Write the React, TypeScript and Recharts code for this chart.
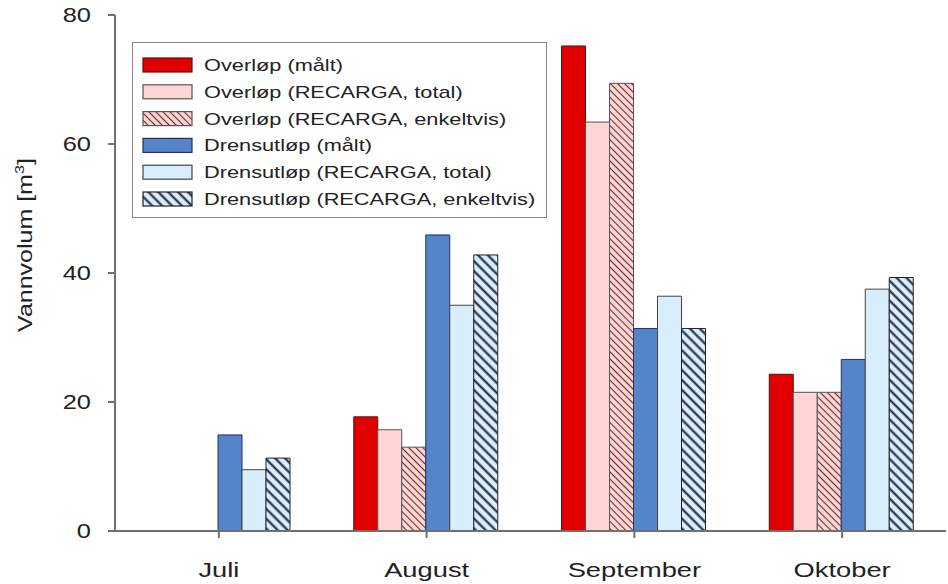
import { Bar, BarChart, Legend, XAxis, YAxis } from "recharts";

const months = ["Juli", "August", "September", "Oktober"];
const overlopMalt = [null, 17.7, 75.2, 24.3];
const overlopTotal = [null, 15.7, 63.4, 21.5];
const overlopEnkelt = [null, 13.0, 69.4, 21.5];
const drensMalt = [14.9, 45.9, 31.4, 26.6];
const drensTotal = [9.5, 35.0, 36.4, 37.5];
const drensEnkelt = [11.3, 42.8, 31.4, 39.3];
const yTicks = [0, 20, 40, 60, 80];

const series = [
  { key: "overlopMalt", name: "Overløp (målt)", fill: "#e00000", stroke: "#5a1010" },
  { key: "overlopTotal", name: "Overløp (RECARGA, total)", fill: "#ffd6d6", stroke: "#555" },
  { key: "overlopEnkelt", name: "Overløp (RECARGA, enkeltvis)", fill: "hatchPink", stroke: "#555" },
  { key: "drensMalt", name: "Drensutløp (målt)", fill: "#5585c8", stroke: "#1f3560" },
  { key: "drensTotal", name: "Drensutløp (RECARGA, total)", fill: "#d8eefc", stroke: "#444" },
  { key: "drensEnkelt", name: "Drensutløp (RECARGA, enkeltvis)", fill: "hatchBlue", stroke: "#222" },
];

const data = months.map((month, i) => ({
  month,
  overlopMalt: overlopMalt[i],
  overlopTotal: overlopTotal[i],
  overlopEnkelt: overlopEnkelt[i],
  drensMalt: drensMalt[i],
  drensTotal: drensTotal[i],
  drensEnkelt: drensEnkelt[i],
}));

const FONT = '"Liberation Sans", Arial, sans-serif';
const AXIS = "#707070";

function fillOf(fill: string, prefix: string) {
  return fill.startsWith("hatch") ? `url(#${prefix}${fill})` : fill;
}

function HatchDefs({ prefix }: { prefix: string }) {
  return (
    <defs>
      <pattern
        id={`${prefix}hatchPink`}
        patternUnits="userSpaceOnUse"
        width={5}
        height={5}
        patternTransform="rotate(-45)"
      >
        <rect width={5} height={5} fill="#ffd6d6" />
        <line x1={2.5} y1={0} x2={2.5} y2={5} stroke="#6b2a2a" strokeWidth={1.1} />
      </pattern>
      <pattern
        id={`${prefix}hatchBlue`}
        patternUnits="userSpaceOnUse"
        width={7}
        height={7}
        patternTransform="rotate(-45)"
      >
        <rect width={7} height={7} fill="#d8eefc" />
        <line x1={3.5} y1={0} x2={3.5} y2={7} stroke="#1b1b2e" strokeWidth={2} />
      </pattern>
    </defs>
  );
}

function XTick({ x, y, payload }: any) {
  return (
    <text
      transform={`translate(${x},${y + 39}) scale(1.3,1)`}
      textAnchor="middle"
      fontSize={21}
      fill="#222"
      fontFamily={FONT}
    >
      {payload.value}
    </text>
  );
}

function YTick({ x, y, payload }: any) {
  return (
    <text
      transform={`translate(${x},${y + 7}) scale(1.27,1)`}
      textAnchor="end"
      fontSize={20}
      fill="#222"
      fontFamily={FONT}
    >
      {payload.value}
    </text>
  );
}

function YLabel() {
  return (
    <text
      transform="translate(32,245) rotate(-90) scale(1.25,1)"
      textAnchor="middle"
      fontSize={20}
      fill="#222"
      fontFamily={FONT}
    >
      Vannvolum [m
      <tspan dy={-8} fontSize={13}>
        3
      </tspan>
      <tspan dy={8}>]</tspan>
    </text>
  );
}

function LegendBox() {
  return (
    <div
      style={{
        width: 415,
        height: 176,
        border: "1px solid #888",
        background: "#fff",
        boxSizing: "border-box",
      }}
    >
      <svg width={413} height={174} style={{ display: "block" }}>
        <HatchDefs prefix="lg-" />
        {series.map((s, i) => {
          const cy = 22 + i * 26.8;
          return (
            <g key={s.key}>
              <rect
                x={10}
                y={cy - 7}
                width={49}
                height={14}
                fill={fillOf(s.fill, "lg-")}
                stroke={s.stroke}
                strokeWidth={1.2}
              />
              <text
                transform={`translate(71,${cy + 6}) scale(1.28,1)`}
                fontSize={17}
                fill="#222"
                fontFamily={FONT}
              >
                {s.name}
              </text>
            </g>
          );
        })}
      </svg>
    </div>
  );
}

export default function App() {
  return (
    <div style={{ width: 948, height: 584, position: "relative", background: "#fff" }}>
      <style>{`body{margin:0}`}</style>
      <BarChart
        width={948}
        height={584}
        data={data}
        margin={{ top: 15, right: 2, bottom: 0, left: 0 }}
        barCategoryGap={31}
        barGap={0}
      >
        <HatchDefs prefix="ch-" />
        <XAxis
          dataKey="month"
          height={53}
          interval={0}
          tickSize={7}
          tickMargin={0}
          tick={<XTick />}
          axisLine={{ stroke: AXIS, strokeWidth: 2 }}
          tickLine={{ stroke: AXIS, strokeWidth: 2 }}
        />
        <XAxis
          xAxisId="top"
          dataKey="month"
          orientation="top"
          height={0}
          tick={false}
          tickLine={false}
          axisLine={{ stroke: AXIS, strokeWidth: 2 }}
        />
        <YAxis
          width={115}
          domain={[0, 80]}
          ticks={yTicks}
          interval={0}
          tickSize={7}
          tickMargin={17}
          tick={<YTick />}
          axisLine={{ stroke: AXIS, strokeWidth: 2 }}
          tickLine={{ stroke: AXIS, strokeWidth: 2 }}
          label={{ content: () => <YLabel /> }}
        />
        <YAxis
          yAxisId="right"
          orientation="right"
          width={0}
          domain={[0, 80]}
          tick={false}
          tickLine={false}
          axisLine={{ stroke: AXIS, strokeWidth: 2 }}
        />
        <Legend
          layout="horizontal"
          verticalAlign="middle"
          align="center"
          wrapperStyle={{ position: "absolute", left: 132, top: 42, width: "auto" }}
          content={() => <LegendBox />}
        />
        {series.map((s) => (
          <Bar
            key={s.key}
            dataKey={s.key}
            name={s.name}
            fill={fillOf(s.fill, "ch-")}
            stroke={s.stroke}
            strokeWidth={1}
            isAnimationActive={false}
          />
        ))}
      </BarChart>
    </div>
  );
}
